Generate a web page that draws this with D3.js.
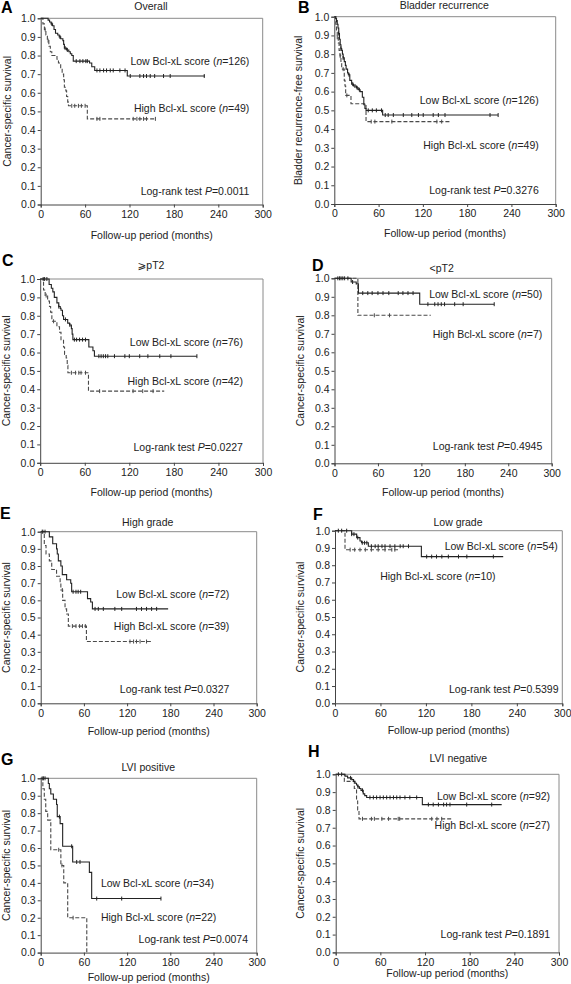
<!DOCTYPE html>
<html><head><meta charset="utf-8">
<script src="https://cdn.jsdelivr.net/npm/d3@7"></script>
<style>
html,body{margin:0;padding:0;background:#fff;}
svg{display:block;font-family:"Liberation Sans",Arial,"DejaVu Sans",sans-serif;}
</style></head>
<body><svg id="chart" width="571" height="984"></svg>
<script>
// ---------- DATA ----------
const xTicks = [0, 60, 120, 180, 240, 300];
const yTicks = [0, 0.1, 0.2, 0.3, 0.4, 0.5, 0.6, 0.7, 0.8, 0.9, 1.0];
const panelLetters = ["A","B","C","D","E","F","G","H"];
const panelTitles = ["Overall","Bladder recurrence","\u2A7EpT2","<pT2","High grade","Low grade","LVI positive","LVI negative"];
const yTitles = ["Cancer-specific survival","Bladder recurrence-free survival","Cancer-specific survival","Cancer-specific survival",
  "Cancer-specific survival","Cancer-specific survival","Cancer-specific survival","Cancer-specific survival"];
const lowN = [126, 126, 76, 50, 72, 54, 34, 92];
const highN = [49, 49, 42, 7, 39, 10, 22, 27];
const pValues = ["0.0011","0.3276","0.0227","0.4945","0.0327","0.5399","0.0074","0.1891"];

// Kaplan-Meier steps [month, survival] and censor times (months)
const lowA = [[0,1],[10,0.99],[12,0.98],[14,0.97],[16,0.96],[18,0.94],[20,0.92],[23,0.91],[25,0.90],[27,0.89],[30,0.88],[31,0.86],[32,0.84],[35,0.83],[38,0.82],[40,0.81],[42,0.80],[44,0.77],[66,0.76],[69,0.74],[73,0.72],[117,0.69],[222,0.69]];
const lowACens = [15,26,33,36,48,53,57,61,63,76,80,85,89,94,98,107,114,121,134,139,143,148,154,166,175,221];
const highA = [[0,1],[3,0.97],[5,0.94],[7,0.91],[9,0.88],[11,0.85],[13,0.82],[15,0.80],[22,0.78],[24,0.76],[27,0.73],[29,0.70],[31,0.67],[32,0.63],[34,0.61],[35,0.58],[36.5,0.55],[37.5,0.53],[63,0.46],[155,0.46]];
const highACens = [6,10,42,46,51,55,60,76,80,125,130,134,139,143,155];

const lowB = [[0,1],[2,0.99],[3,0.98],[4,0.96],[5,0.94],[6,0.91],[7,0.88],[8,0.85],[9,0.83],[10,0.82],[11,0.80],[12,0.78],[13.5,0.76],[15,0.74],[16,0.72],[18,0.70],[19,0.69],[21,0.66],[23.5,0.64],[26,0.63],[30,0.62],[32.5,0.61],[35,0.60],[38,0.57],[40,0.53],[41.5,0.51],[43,0.50],[65.5,0.475],[222,0.475]];
const lowBCens = [3,6,9,12,20,25,28,31,34,46,51.5,57,64,69,73,80,93.5,105,114,120.5,134,141,150,211,222];
const highB = [[0,1],[2,0.96],[3,0.92],[4,0.89],[5.4,0.86],[6.5,0.82],[7.7,0.79],[9,0.75],[10,0.72],[13.5,0.66],[14.5,0.63],[15.4,0.58],[22.6,0.535],[43,0.44],[157,0.44]];
const highBCens = [4,8,12,17,50,55,78,139,145.5];

const lowC = [[0,1],[12,0.97],[15,0.95],[17,0.93],[19,0.90],[22.5,0.87],[25,0.85],[27,0.84],[28,0.83],[30,0.80],[31.5,0.78],[37,0.76],[39.5,0.75],[42,0.73],[43,0.70],[44,0.67],[65.5,0.63],[71,0.61],[73,0.58],[211,0.58]];
const lowCCens = [4,6,9,25,34,40,46,49,53,57,61,79,82,85,88,91,100,114,120,134,145,161,176,211];
const highC = [[0,1],[4.5,0.94],[6.7,0.91],[10,0.88],[12.5,0.85],[14,0.82],[15.7,0.77],[22.5,0.74],[26,0.71],[28,0.67],[31.4,0.63],[32.8,0.59],[35,0.57],[36.4,0.53],[37.3,0.49],[65,0.39],[167,0.39]];
const highCCens = [8,18,42,47.6,52,55,61,80,125,138,152];

const lowD = [[0,1],[23,0.98],[30,0.97],[33,0.92],[117.7,0.86],[220.6,0.86]];
const lowDCens = [4.6,7,9,11.5,14,18.5,25,39,46,52,60,67,75,88,94.5,101.5,108.5,129,138.5,143,147.5,152,166,177.7,220.6];
const highD = [[0,1],[32.3,0.80],[133,0.80]];
const highDCens = [55,76];

const lowE = [[0,1],[12,0.97],[16.7,0.93],[22,0.90],[23,0.87],[24.5,0.83],[28,0.80],[30,0.75],[36,0.72],[41.7,0.70],[43,0.65],[65,0.61],[69.4,0.59],[71.8,0.55],[177,0.55]];
const lowECens = [3,6,45,49,52,55.5,75.5,80,87,103,112.5,133,140,147,154,161];
const highE = [[0,1],[5,0.92],[7.4,0.87],[12,0.83],[15.3,0.78],[22,0.74],[27,0.70],[28,0.66],[30.5,0.60],[33.8,0.55],[36,0.52],[38.4,0.45],[63.5,0.36],[155.5,0.36]];
const highECens = [2,30,44,49,54,58,62,124,129,133,138,147];

const lowF = [[0,1],[22,0.98],[28.6,0.96],[33,0.94],[35,0.93],[44,0.91],[114,0.85],[222,0.85]];
const lowFCens = [4.4,8.8,15.4,22,25,30,36,39,42,48,53,57,62,66,72.6,79,86,90,97,121,127.6,134,141,149.6,163,174,209];
const highF = [[0,1],[13.2,0.89],[85.8,0.89]];
const highFCens = [20,26,33,40,48,57,66,75,79];

const lowG = [[0,1],[10.6,0.97],[12,0.94],[14,0.91],[17.6,0.88],[22,0.85],[23,0.78],[27,0.74],[30.5,0.61],[44.4,0.52],[67.6,0.46],[70.8,0.31],[167,0.31]];
const lowGCens = [3.7,6,26,43,50,54.6,77.8,112.5,167];
const highG = [[0,1],[3,0.94],[5,0.88],[7,0.81],[9.7,0.76],[14,0.59],[28,0.50],[32,0.40],[37.5,0.20],[64,0]];
const highGCens = [2,25,29.5,45];

const lowH = [[0,1],[12.5,0.99],[16,0.98],[21.5,0.97],[24,0.96],[26,0.95],[28,0.94],[29.6,0.93],[32,0.92],[34,0.91],[37,0.89],[39,0.88],[41.6,0.87],[116.4,0.83],[223,0.83]];
const lowHCens = [3.6,8,20,30,36,46,50.6,55,59.6,64,68.5,73,77.6,82,86.4,93,99.6,108.8,124.5,131,138,145,149,153.5,176,209.6];
const highH = [[0,1],[11.6,0.96],[25,0.92],[28,0.85],[29.5,0.80],[31.3,0.75],[156,0.75]];
const highHCens = [36,48,52,62,71,84,86,129,136,142.4];

const lowCurves = [lowA,lowB,lowC,lowD,lowE,lowF,lowG,lowH];
const lowCens = [lowACens,lowBCens,lowCCens,lowDCens,lowECens,lowFCens,lowGCens,lowHCens];
const highCurves = [highA,highB,highC,highD,highE,highF,highG,highH];
const highCens = [highACens,highBCens,highCCens,highDCens,highECens,highFCens,highGCens,highHCens];

// ---------- LAYOUT (pixels / label anchors, separate from data) ----------
const layout = [
  {rect:[40.7,18.3,262.7,204.5], letter:[1,13],    titleX:151,   titleY:10,    yTitleX:7,     xTitleDy:34,
   lowLab:[282,0.768], highLab:[282,0.518], pLab:[282,0.071]},
  {rect:[334.3,16.7,555.7,204],  letter:[298,13],  titleX:444.3, titleY:9,     yTitleX:298.5, xTitleDy:33,
   lowLab:[277,0.555], highLab:[277,0.315], pLab:[277,0.071]},
  {rect:[40.2,279,263,462.8],    letter:[2,265.5], titleX:151,   titleY:269,   yTitleX:6.5,   xTitleDy:33,
   lowLab:[273,0.657], highLab:[273,0.442], pLab:[273,0.084]},
  {rect:[334.5,278.3,551.7,463.3],letter:[312,271],titleX:441.7,titleY:272,  yTitleX:300,   xTitleDy:33,
   lowLab:[287,0.913], highLab:[287,0.696], pLab:[287,0.09]},
  {rect:[40.7,531.7,256.7,703.3],letter:[0,518.5], titleX:147.7, titleY:525.5, yTitleX:6.5,   xTitleDy:32,
   lowLab:[262,0.637], highLab:[262,0.45], pLab:[262,0.082]},
  {rect:[335,530.7,562.3,703.3], letter:[313,519.5],titleX:458,  titleY:525.5, yTitleX:300,   xTitleDy:31,
   lowLab:[294,0.907], highLab:[212,0.734], pLab:[295,0.081]},
  {rect:[40.7,778.3,256.7,952.6],letter:[1,765],   titleX:148.3, titleY:771,   yTitleX:6.5,   xTitleDy:28,
   lowLab:[240.7,0.40], highLab:[244,0.205], pLab:[288,0.077]},
  {rect:[335.7,774.3,559,952.4], letter:[308,756.5],titleX:458.3,titleY:761.5, yTitleX:300,   xTitleDy:25,
   lowLab:[288,0.878], highLab:[288,0.712], pLab:[288,0.101]}
];

// ---------- DRAW ----------
const svg = d3.select("#chart");
const FS = 10.5;

function survAt(curve, t){
  let s = curve[0][1];
  for (const [tt, ss] of curve){ if (tt <= t) s = ss; else break; }
  return s;
}

layout.forEach((L, i) => {
  const [x0, y0, x1, y1] = L.rect;
  const x = d3.scaleLinear().domain([0, 300]).range([x0, x1]);
  const y = d3.scaleLinear().domain([0, 1]).range([y1, y0]);
  const g = svg.append("g");

  // frame (top/right gray)
  g.append("path")
    .attr("d", `M${x0},${y0}H${x1}V${y1}`)
    .attr("fill", "none").attr("stroke", "#8a8a8a").attr("stroke-width", 1);

  // axes
  const xa = g.append("g").attr("transform", `translate(0,${y1})`)
    .call(d3.axisBottom(x).tickValues(xTicks).tickSize(3).tickPadding(3).tickFormat(d3.format("d")));
  const ya = g.append("g").attr("transform", `translate(${x0},0)`)
    .call(d3.axisLeft(y).tickValues(yTicks).tickSize(3).tickPadding(2).tickFormat(d3.format(".1f")));
  [xa, ya].forEach(a => {
    a.select(".domain").attr("stroke", "#444");
    a.selectAll(".tick line").attr("stroke", "#444");
    a.selectAll(".tick text").attr("fill", "#222").style("font-size", FS + "px")
      .style("font-family", '"Liberation Sans",Arial,sans-serif');
  });

  // curves
  const line = d3.line().x(d => x(d[0])).y(d => y(d[1])).curve(d3.curveStepAfter);
  const series = [
    {curve: highCurves[i], cens: highCens[i], color: "#4a4a4a", dash: "4,2"},
    {curve: lowCurves[i], cens: lowCens[i], color: "#222", dash: null}
  ];
  series.forEach(sr => {
    g.append("path").datum(sr.curve).attr("d", line)
      .attr("fill", "none").attr("stroke", sr.color).attr("stroke-width", 1.1)
      .attr("stroke-dasharray", sr.dash);
    g.selectAll(null).data(sr.cens).enter().append("line")
      .attr("x1", d => x(d)).attr("x2", d => x(d))
      .attr("y1", d => y(survAt(sr.curve, d)) - 2)
      .attr("y2", d => y(survAt(sr.curve, d)) + 2)
      .attr("stroke", sr.color).attr("stroke-width", 1);
  });

  // labels
  function label(pos, parts){
    const t = g.append("text").attr("x", x(pos[0])).attr("y", y(pos[1]))
      .attr("dy", "0.35em").attr("text-anchor", "end")
      .attr("fill", "#222").style("font-size", FS + "px");
    parts.forEach(p => t.append("tspan").text(p[0]).style("font-style", p[1] ? "italic" : "normal"));
  }
  label(L.lowLab, [["Low Bcl-xL score (",0],["n",1],["=" + lowN[i] + ")",0]]);
  label(L.highLab, [["High Bcl-xL score (",0],["n",1],["=" + highN[i] + ")",0]]);
  label(L.pLab, [["Log-rank test ",0],["P",1],["=" + pValues[i],0]]);

  // titles
  g.append("text").attr("x", L.titleX).attr("y", L.titleY).attr("text-anchor", "middle")
    .attr("fill", "#222").style("font-size", FS + "px").text(panelTitles[i]);
  g.append("text").attr("x", L.letter[0]).attr("y", L.letter[1])
    .attr("fill", "#000").style("font-size", "16px").style("font-weight", "bold").text(panelLetters[i]);
  g.append("text").attr("x", (x0 + x1) / 2).attr("y", y1 + L.xTitleDy).attr("text-anchor", "middle")
    .attr("fill", "#222").style("font-size", FS + "px").text("Follow-up period (months)");
  g.append("text")
    .attr("transform", `translate(${L.yTitleX},${(y0 + y1) / 2}) rotate(-90)`)
    .attr("dy", "0.35em").attr("text-anchor", "middle")
    .attr("fill", "#222").style("font-size", FS + "px").text(yTitles[i]);
});
</script>
</body></html>
